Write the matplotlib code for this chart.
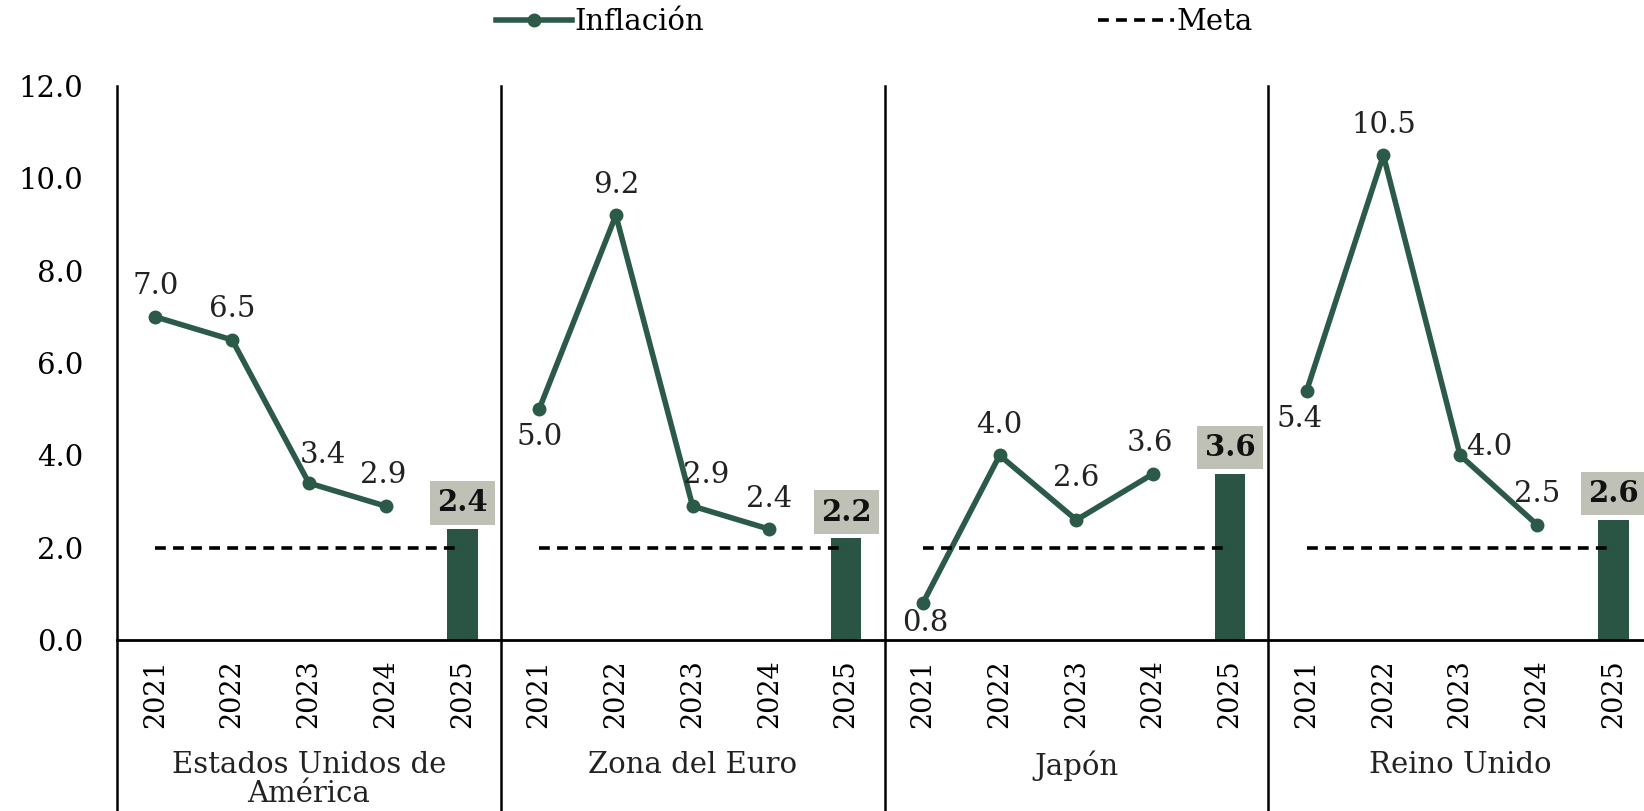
import matplotlib.pyplot as plt
from matplotlib.transforms import blended_transform_factory

plt.rcParams['font.family'] = ['DejaVu Serif']

regions = ['Estados Unidos de\nAmérica', 'Zona del Euro', 'Japón', 'Reino Unido']
years = ['2021', '2022', '2023', '2024', '2025']
inflation = [
    [7.0, 6.5, 3.4, 2.9],
    [5.0, 9.2, 2.9, 2.4],
    [0.8, 4.0, 2.6, 3.6],
    [5.4, 10.5, 4.0, 2.5],
]
latest = [2.4, 2.2, 3.6, 2.6]
target = 2.0

# label offsets (points) for each line point
offsets = [
    [(0, 12), (0, 12), (10, 10), (-2, 12)],
    [(0, -10), (0, 12), (10, 12), (0, 12)],
    [(2, -4), (0, 12), (0, 20), (-2, 12)],
    [(-5, -10), (0, 12), (21, 6), (0, 12)],
]

green = '#2b5a48'
fs = 21

fig = plt.figure(figsize=(16.44, 8.11), dpi=100)
ax = fig.add_axes([117 / 1644, 1 - 640 / 811, 1535 / 1644, 554 / 811])

n = len(years)
xticks, xlabels = [], []
for g, name in enumerate(regions):
    xs = [g * n + i for i in range(n)]
    xticks += xs
    xlabels += years
    ax.plot(xs[:4], inflation[g], color=green, lw=4, marker='o', ms=9,
            label='Inflación' if g == 0 else None)
    ax.plot([xs[0], xs[-1]], [target, target], color='black', lw=2.6,
            ls=(0, (3, 2)), label='Meta' if g == 0 else None, zorder=3)
    ax.bar(xs[4], latest[g], width=0.4, color='#2a5545', zorder=2)
    for x, v, off in zip(xs[:4], inflation[g], offsets[g]):
        va = 'top' if off[1] < 0 else 'bottom'
        if off[0] > 15:
            va = 'center'
        ax.annotate(f'{v:.1f}', (x, v), xytext=off, textcoords='offset points',
                    ha='center', va=va, fontsize=fs, color='#222222')
    ax.annotate(f'{latest[g]:.1f}', (xs[4], latest[g]), xytext=(0, 19),
                textcoords='offset points', ha='center', va='center',
                fontsize=fs, fontweight='bold', color='#111111',
                bbox=dict(boxstyle='square,pad=0.25', fc='#c0c1b6', ec='none'))

trans = blended_transform_factory(ax.transData, ax.transAxes)
for g, name in enumerate(regions):
    ax.text(g * n + 2, -0.2, name, transform=trans, ha='center', va='top',
            fontsize=fs, color='#222222', linespacing=1.05)
for sep in [-0.5, 4.5, 9.5, 14.5, 19.5]:
    ax.plot([sep, sep], [1.0, -0.32], transform=trans, color='black', lw=1.8,
            clip_on=False)

ax.set_xlim(-0.5, 19.5)
ax.set_ylim(0, 12)
ax.set_yticks([0, 2, 4, 6, 8, 10, 12])
ax.set_yticklabels([f'{v:.1f}' for v in [0, 2, 4, 6, 8, 10, 12]], fontsize=fs)
ax.set_xticks(xticks)
ax.set_xticklabels(xlabels, rotation=90, fontsize=19.5)
ax.tick_params(axis='y', length=0, pad=24)
ax.tick_params(axis='x', length=0, pad=14)
for s in ['top', 'right', 'left']:
    ax.spines[s].set_visible(False)
ax.spines['bottom'].set_linewidth(2)

fig.legend(loc='upper center', bbox_to_anchor=(0.532, 1.022), ncol=2,
           frameon=False, fontsize=fs, handlelength=2.6, handletextpad=0.1,
           columnspacing=13.5)

fig.savefig('out.png', dpi=100)
